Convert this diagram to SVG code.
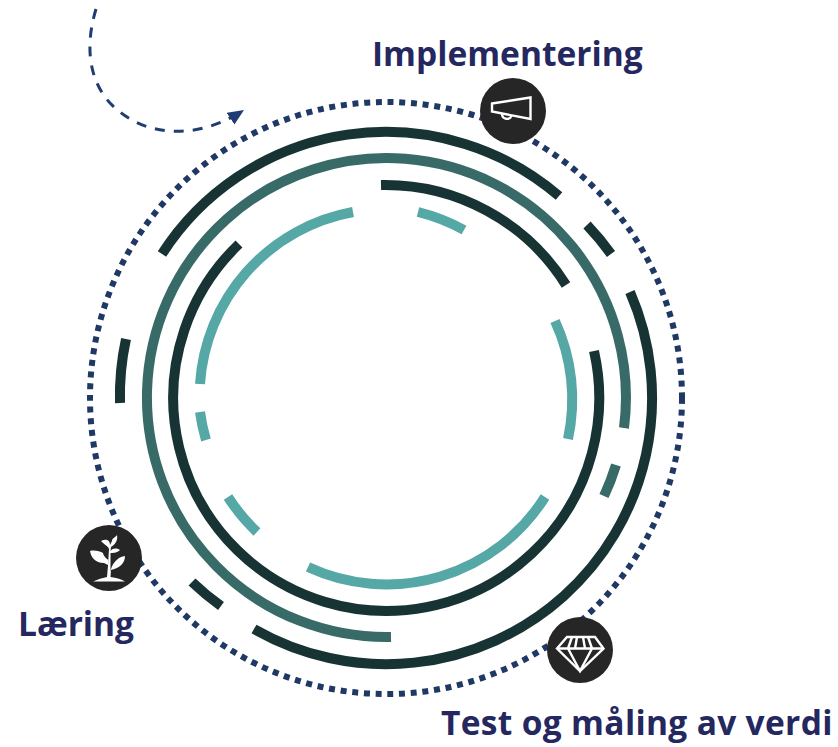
<svg xmlns="http://www.w3.org/2000/svg" width="838" height="747" viewBox="0 0 838 747">
<style>
.a{fill:none;stroke-width:10}
.d{stroke:#183333}.b{stroke:#386a68}.l{stroke:#55a8a6}
.t{font-family:"Open Sans","Noto Sans",sans-serif;font-weight:700;font-size:33.5px;fill:#25275f}
.c{fill:#262626}
.w{fill:none;stroke:#fff;stroke-width:2.4;stroke-linejoin:miter}
.p{fill:#fff}
</style>
<defs><marker id="ah" markerUnits="userSpaceOnUse" markerWidth="18" markerHeight="16" refX="16" refY="7" orient="auto"><path d="M0 0L16 7L0 14Z" fill="#1f3d73"/></marker></defs>
<rect width="838" height="747" fill="#fff"/>
<g id="connectors">
<circle cx="386" cy="398" r="296" fill="none" stroke="#1f3864" stroke-width="6" stroke-dasharray="6 5.73"/>
<path d="M96 9C82 55 93 92 120 112C147 134 195 142 244 110" fill="none" stroke="#1f3d73" stroke-width="3" stroke-dasharray="10 9" marker-end="url(#ah)"/>
</g>
<g id="rings">
<path class="a d" d="M162 254A266 266 0 0 1 559 196"/>
<path class="a d" d="M630 292A266 266 0 0 1 254 629"/>
<path class="a d" d="M120 403A266 266 0 0 1 126 339"/>
<path class="a d" d="M587 225A266 266 0 0 1 611 254"/>
<path class="a d" d="M192 582A266 266 0 0 0 221 606"/>
<path class="a b" d="M624 428A239.5 239.5 0 1 0 391 637"/>
<path class="a b" d="M616 465A239.5 239.5 0 0 1 604 496"/>
<path class="a d" d="M381 185A213 213 0 0 1 566 285"/>
<path class="a d" d="M594 351A213 213 0 1 1 239 244"/>
<path class="a l" d="M353 212A187 187 0 0 0 200 384"/>
<path class="a l" d="M418 212A187 187 0 0 1 464 230"/>
<path class="a l" d="M555 321A187 187 0 0 1 568 439"/>
<path class="a l" d="M545 497A187 187 0 0 1 308 567"/>
<path class="a l" d="M257 532A187 187 0 0 1 228 497"/>
<path class="a l" d="M200 412A187 187 0 0 0 206 440"/>
</g>
<g id="implementering">
<circle class="c" cx="513" cy="111" r="33"/>
<path class="w" d="M492 103.5L530.5 97.5V119L492 111.5Z"/>
<path class="w" d="M502 114A5 5 0 0 0 511.5 116"/>
<text class="t" x="372" y="66">Implementering</text>
</g>
<g id="laering">
<circle class="c" cx="109" cy="558" r="33"/>
<path class="p" d="M93 581.5Q100 578 107 577L108.5 560C105 558 103 554 103 553C100 551 94 550 90 551C91 557 95 563 104 563L108 565L109 549C108 546 106 546 101 541C105 539 110 539 110 545L112 541C112 538 116 537 117 535C118 539 116 544 111 547L110.5 551C113 548 116 548 120 550C117 553 113 553 110.5 553L110.5 572C111 566 116 557 125 556C125 562 121 568 111 570L110.5 577Q120 578 125 581.5Z"/>
<text class="t" x="18" y="636">Læring</text>
</g>
<g id="test">
<circle class="c" cx="580" cy="650" r="33"/>
<path class="w" d="M557 648.5L567 637H595L603.5 648.5L580 671Z"/>
<path class="w" d="M557 648.5H603.5M572 637L568 648.5L580 671L592 648.5L588 637M577 637L575 648.5M583 637L585 648.5" stroke-width="1.8"/>
<text class="t" x="441" y="735" letter-spacing=".33">Test og måling av verdi</text>
</g>
</svg>
